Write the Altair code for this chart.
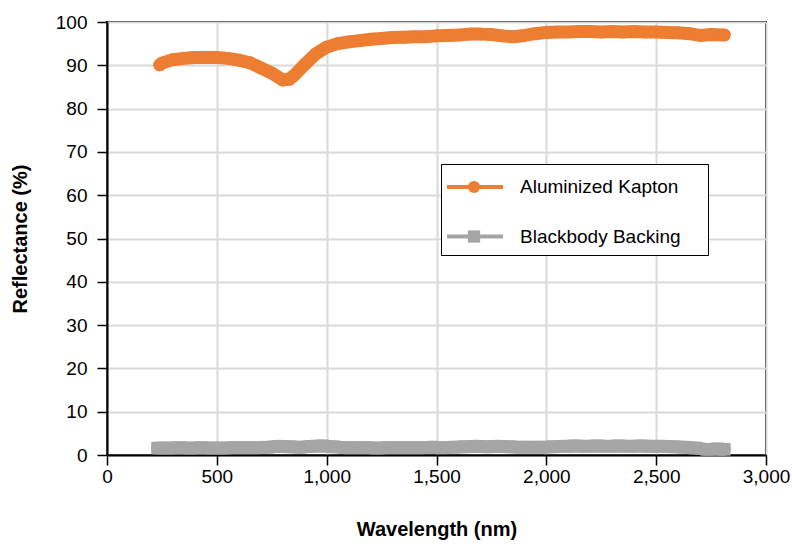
import altair as alt
import pandas as pd

ak_nm = [240, 250, 300, 350, 400, 450, 500, 550, 600, 650, 700, 750, 800, 830, 850,
         900, 950, 1000, 1050, 1100, 1150, 1200, 1250, 1300, 1350, 1400, 1450, 1500,
         1550, 1600, 1650, 1700, 1750, 1800, 1850, 1900, 1950, 2000, 2050, 2100, 2150,
         2200, 2250, 2300, 2350, 2400, 2450, 2500, 2550, 2600, 2650, 2700, 2750, 2810]
ak_val = [90.1, 90.5, 91.3, 91.6, 91.8, 91.8, 91.8, 91.6, 91.2, 90.6, 89.4, 88.2, 86.6, 86.8, 87.6,
          90.2, 92.6, 94.2, 95.0, 95.4, 95.7, 96.0, 96.2, 96.4, 96.5, 96.6, 96.6, 96.8,
          96.9, 97.0, 97.2, 97.2, 97.1, 96.8, 96.6, 96.9, 97.3, 97.6, 97.7, 97.7, 97.8,
          97.8, 97.7, 97.8, 97.7, 97.8, 97.7, 97.7, 97.6, 97.5, 97.3, 96.9, 97.1, 97.0]

bb_nm = [230, 280, 330, 380, 430, 480, 530, 580, 630, 680, 730, 780, 830, 880, 930,
         980, 1030, 1080, 1130, 1180, 1230, 1280, 1330, 1380, 1430, 1480, 1530, 1580,
         1630, 1680, 1730, 1780, 1830, 1880, 1930, 1980, 2030, 2080, 2130, 2180, 2230,
         2280, 2330, 2380, 2430, 2480, 2530, 2580, 2630, 2680, 2730, 2780, 2810]
bb_val = [1.6, 1.6, 1.7, 1.6, 1.7, 1.6, 1.6, 1.7, 1.7, 1.7, 1.8, 2.0, 1.9, 1.8, 2.0,
          2.1, 1.9, 1.7, 1.7, 1.7, 1.6, 1.7, 1.7, 1.7, 1.7, 1.8, 1.7, 1.8,
          1.9, 2.0, 1.9, 2.0, 1.9, 1.8, 1.8, 1.8, 1.9, 2.0, 2.1, 2.0, 2.1,
          2.0, 2.1, 2.0, 2.1, 2.0, 2.0, 1.9, 1.8, 1.6, 1.3, 1.4, 1.3]

series_names = ["Aluminized Kapton", "Blackbody Backing"]
series_colors = ["#ED7D31", "#A5A5A5"]
x_ticks = [0, 500, 1000, 1500, 2000, 2500, 3000]
y_ticks = [0, 10, 20, 30, 40, 50, 60, 70, 80, 90, 100]

df = pd.concat([
    pd.DataFrame({"nm": ak_nm, "val": ak_val, "series": series_names[0]}),
    pd.DataFrame({"nm": bb_nm, "val": bb_val, "series": series_names[1]}),
])

FONT = "Liberation Sans"
FS = 19

x = alt.X("nm:Q", title="Wavelength (nm)",
          scale=alt.Scale(domain=[0, 3000], nice=False),
          axis=alt.Axis(values=x_ticks, format=",d", labelFlush=False))
y = alt.Y("val:Q", title="Reflectance (%)",
          scale=alt.Scale(domain=[0, 100], nice=False),
          axis=alt.Axis(values=y_ticks))

# legend box with line symbols and labels
line_legend = alt.Legend(
    title=None, orient="none", legendX=334, legendY=142,
    symbolType="M-2.154,0L2.154,0", symbolSize=676, symbolStrokeWidth=4,
    symbolOffset=11,
    labelFont=FONT, labelFontSize=FS, labelColor="black", labelOffset=30,
    labelExpr="datum.label + '\u2003\u200b'",
    rowPadding=24.5, padding=8, strokeColor="black", fillColor="white",
    labelLimit=400,
)
# marker symbols placed over the middle of the legend lines
pt_legend = alt.Legend(
    title=None, orient="none", legendX=360.5, legendY=158.5,
    symbolSize=150, symbolStrokeWidth=0, symbolOpacity=1,
    labelFontSize=1, labelExpr="''", labelOffset=2,
    rowPadding=36.5, padding=0,
)

base = alt.Chart(df)

lines = base.mark_line(strokeWidth=13, strokeCap="round", strokeJoin="round").encode(
    x=x, y=y,
    color=alt.Color("series:N", scale=alt.Scale(domain=series_names, range=series_colors),
                    legend=line_legend),
    detail="series:N",
)

points = base.transform_calculate(marker="datum.series").mark_point(filled=True, opacity=1).encode(
    x=x, y=y,
    fill=alt.Fill("marker:N", scale=alt.Scale(domain=series_names, range=series_colors),
                  legend=pt_legend),
    shape=alt.Shape("marker:N", scale=alt.Scale(domain=series_names, range=["circle", "square"]),
                    legend=pt_legend),
    size=alt.value(160),
)

chart = alt.layer(lines, points).resolve_scale(
    color="independent", fill="independent", shape="independent"
).resolve_legend(
    color="independent", fill="independent", shape="independent"
).properties(
    width=659, height=433,
    autosize=alt.AutoSizeParams(type="none"),
    padding={"left": 107, "top": 22, "right": 26, "bottom": 91},
).configure_view(
    stroke="black", strokeWidth=2
).configure_axis(
    labelFont=FONT, labelFontSize=FS, labelColor="black",
    titleFont=FONT, titleFontSize=20, titleFontWeight="bold", titleColor="black",
    domainColor="black", domainWidth=2,
    tickColor="black", tickWidth=1.5, tickSize=10,
    gridColor="#d9d9d9", gridWidth=2,
).configure_axisX(
    labelPadding=2, titlePadding=33,
).configure_axisY(
    labelPadding=10, titlePadding=25,
)

chart.save("out.html", embed_options={"renderer": "svg", "actions": False})
